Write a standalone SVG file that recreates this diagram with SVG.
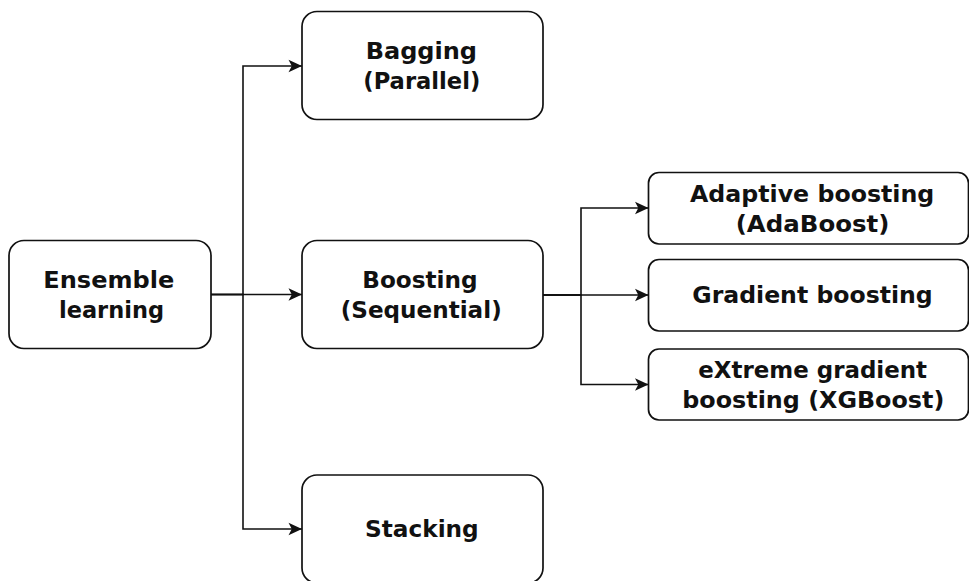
<svg xmlns="http://www.w3.org/2000/svg" width="969" height="581" viewBox="0 0 969 581">
  <style>
    .box { fill: #ffffff; stroke: #111111; stroke-width: 1.7; }
    .edge { fill: none; stroke: #111111; stroke-width: 1.6; }
    .label { font-family: "DejaVu Sans", Verdana, sans-serif; font-weight: bold; font-size: 22.5px; fill: #111111; }
  </style>
  <defs>
    <marker id="arrow" markerUnits="userSpaceOnUse" markerWidth="16" markerHeight="14" refX="14" refY="7" orient="auto">
      <path d="M14,7 L0.5,0.8 L3.8,7 L0.5,13.2 Z" fill="#111111"/>
    </marker>
  </defs>
  <rect width="969" height="581" fill="#ffffff"/>

  <!-- connectors -->
  <g id="connectors">
    <path class="edge" d="M211,294.5 H243 V66 H302" marker-end="url(#arrow)"/>
    <path class="edge" d="M211,294.5 H302" marker-end="url(#arrow)"/>
    <path class="edge" d="M211,294.5 H243 V529 H302" marker-end="url(#arrow)"/>
    <path class="edge" d="M543,295 H581 V208 H648.5" marker-end="url(#arrow)"/>
    <path class="edge" d="M543,295 H648.5" marker-end="url(#arrow)"/>
    <path class="edge" d="M543,295 H581 V384.5 H648.5" marker-end="url(#arrow)"/>
  </g>

  <!-- root -->
  <g id="ensemble-learning">
    <rect class="box" x="9" y="240.5" width="202" height="108" rx="15"/>
    <text class="label" x="43.3" y="288.3" textLength="131" lengthAdjust="spacingAndGlyphs">Ensemble</text>
    <text class="label" x="59" y="318.3" textLength="105" lengthAdjust="spacingAndGlyphs">learning</text>
  </g>

  <!-- ensemble methods -->
  <g id="bagging">
    <rect class="box" x="302" y="11.5" width="241" height="108" rx="15"/>
    <text class="label" x="365.7" y="58.8" textLength="111.3" lengthAdjust="spacingAndGlyphs">Bagging</text>
    <text class="label" x="363.3" y="88.8" textLength="117" lengthAdjust="spacingAndGlyphs">(Parallel)</text>
  </g>

  <g id="boosting">
    <rect class="box" x="302" y="240.5" width="241" height="108" rx="15"/>
    <text class="label" x="362.3" y="288.3" textLength="115.3" lengthAdjust="spacingAndGlyphs">Boosting</text>
    <text class="label" x="340.7" y="318.3" textLength="161" lengthAdjust="spacingAndGlyphs">(Sequential)</text>
  </g>

  <g id="stacking">
    <rect class="box" x="302" y="475" width="241" height="108" rx="15"/>
    <text class="label" x="365" y="536.5" textLength="113.7" lengthAdjust="spacingAndGlyphs">Stacking</text>
  </g>

  <!-- boosting variants -->
  <g id="adaboost">
    <rect class="box" x="648.5" y="172.5" width="320" height="71.5" rx="10.5"/>
    <text class="label" x="690" y="201.7" textLength="244.3" lengthAdjust="spacingAndGlyphs">Adaptive boosting</text>
    <text class="label" x="735.7" y="231.7" textLength="153.7" lengthAdjust="spacingAndGlyphs">(AdaBoost)</text>
  </g>

  <g id="gradient-boosting">
    <rect class="box" x="648.5" y="259.5" width="320" height="71.5" rx="10.5"/>
    <text class="label" x="692.3" y="302.7" textLength="240.4" lengthAdjust="spacingAndGlyphs">Gradient boosting</text>
  </g>

  <g id="xgboost">
    <rect class="box" x="648.5" y="349" width="320" height="71" rx="10.5"/>
    <text class="label" x="698.3" y="378.3" textLength="228.7" lengthAdjust="spacingAndGlyphs">eXtreme gradient</text>
    <text class="label" x="682.3" y="408.3" textLength="262" lengthAdjust="spacingAndGlyphs">boosting (XGBoost)</text>
  </g>
</svg>
